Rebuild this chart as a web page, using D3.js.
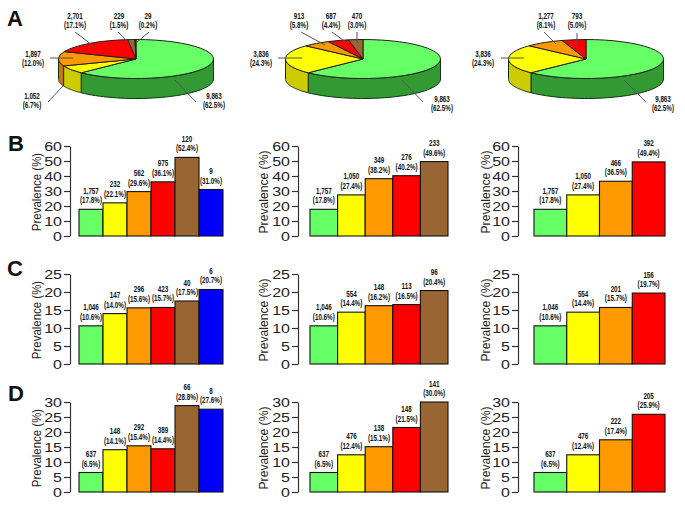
<!DOCTYPE html>
<html><head><meta charset="utf-8">
<script src="https://d3js.org/d3.v7.min.js"></script>
<style>
html,body{margin:0;padding:0;background:#fff}
svg{display:block}
text{font-family:"Liberation Sans",Arial,sans-serif}
.lab{font-weight:700;font-size:8.5px;fill:#111;text-anchor:middle}
.tick text{font-size:12.5px;fill:#222}
.ttl{font-size:13.5px;fill:#222;text-anchor:middle}
.let{font-size:22px;font-weight:700;fill:#111}
</style></head><body>
<svg id="c" width="685" height="513"></svg>
<script>
// ---------- data ----------
const categoryColors = ["#66ff66","#ffff00","#ff9900","#ff0000","#996633","#0000ff"];
const sideColors     = ["#339933","#cccc00","#cc7700","#cc0000","#774d26","#0000aa"];

const pieCounts1 = [9863,1052,1897,2701,229,29];
const piePct1    = [62.5,6.7,12.0,17.1,1.5,0.2];
const pieCounts2 = [9863,3836,913,687,470];
const piePct2    = [62.5,24.3,5.8,4.4,3.0];
const pieCounts3 = [9863,3836,1277,793];
const piePct3    = [62.5,24.3,8.1,5.0];

const countsB1 = [1757,232,562,975,120,9];
const pctB1    = [17.8,22.1,29.6,36.1,52.4,31.0];
const countsB2 = [1757,1050,349,276,233];
const pctB2    = [17.8,27.4,38.2,40.2,49.6];
const countsB3 = [1757,1050,466,392];
const pctB3    = [17.8,27.4,36.5,49.4];

const countsC1 = [1046,147,296,423,40,6];
const pctC1    = [10.6,14.0,15.6,15.7,17.5,20.7];
const countsC2 = [1046,554,148,113,96];
const pctC2    = [10.6,14.4,16.2,16.5,20.4];
const countsC3 = [1046,554,201,156];
const pctC3    = [10.6,14.4,15.7,19.7];

const countsD1 = [637,148,292,389,66,8];
const pctD1    = [6.5,14.1,15.4,14.4,28.8,27.6];
const countsD2 = [637,476,138,148,141];
const pctD2    = [6.5,12.4,15.1,21.5,30.0];
const countsD3 = [637,476,222,205];
const pctD3    = [6.5,12.4,17.4,25.9];

const ticksB = [0,10,20,30,40,50,60];
const ticksC = [0,5,10,15,20,25];
const ticksD = [0,5,10,15,20,25,30];
const yTitle = "Prevalence (%)";

// ---------- layout ----------
const svg = d3.select("#c");
const fmt = d3.format(",");
const squeeze = 0.74;
const label2 = (g,x,y1,y2,count,pct)=>{
  g.append("text").attr("class","lab").attr("transform",`translate(${x},${y1}) scale(${squeeze},1)`).text(fmt(count));
  g.append("text").attr("class","lab").attr("transform",`translate(${x},${y2}) scale(${squeeze},1)`).text("("+pct.toFixed(1)+"%)");
};

const columns = [
  {title:41, tickEnd:70,  x0:79,  x1:223, squeeze:0.85},
  {title:268,tickEnd:298, x0:310, x1:448, squeeze:0.90},
  {title:490,tickEnd:518, x0:534, x1:665, squeeze:0.90}
];
const rows = [
  {y0:236,y1:146,max:60,ticks:ticksB,data:[[countsB1,pctB1],[countsB2,pctB2],[countsB3,pctB3]]},
  {y0:364,y1:274,max:25,ticks:ticksC,data:[[countsC1,pctC1],[countsC2,pctC2],[countsC3,pctC3]]},
  {y0:492,y1:402,max:30,ticks:ticksD,data:[[countsD1,pctD1],[countsD2,pctD2],[countsD3,pctD3]]}
];

rows.forEach(r=>{
  columns.forEach((c,ci)=>{
    const [counts,pct] = r.data[ci];
    const y = d3.scaleLinear().domain([0,r.max]).range([r.y0,r.y1]);
    const x = d3.scaleBand().domain(d3.range(counts.length)).range([c.x0,c.x1]);
    const g = svg.append("g");
    const ax = g.append("g").attr("transform",`translate(${c.tickEnd},0)`)
      .call(d3.axisLeft(y).tickValues(r.ticks).tickSizeInner(6).tickSizeOuter(0).tickPadding(2));
    ax.selectAll("path,line").attr("stroke","#333").attr("stroke-width",1.2);
    ax.selectAll("text").attr("font-family",null)
      .attr("x",0).attr("transform","translate(-8,0) scale(1.28,1)");
    g.append("text").attr("class","ttl")
      .attr("transform",`translate(${c.title},${(r.y0+r.y1)/2+1}) rotate(-90) scale(${c.squeeze},1)`).text(yTitle);
    g.selectAll("rect").data(pct).join("rect")
      .attr("x",(d,i)=>x(i)).attr("width",x.bandwidth())
      .attr("y",d=>y(d)).attr("height",d=>r.y0-y(d))
      .attr("fill",(d,i)=>categoryColors[i]).attr("stroke","#111").attr("stroke-width",1.1);
    pct.forEach((p,i)=>label2(g,x(i)+x.bandwidth()/2,y(p)-15.5,y(p)-6,counts[i],p));
  });
});

// ---------- pies ----------
const rx=77.5, ry=19.5, depth=20;
const pies = [
  {cx:136,cy:59,counts:pieCounts1,pct:piePct1,notes:[
    {x:214,y:[99,108],l:[175,80,196,102]},
    {x:32, y:[99,108],l:[63,86,48,102]},
    {x:33, y:[57,66], l:[50,58,73,58]},
    {x:75, y:[19,28], l:[75,32,96,48]},
    {x:119,y:[19,28], l:[118,32,129,43]},
    {x:148,y:[19,28], l:[149,32,137,42]}]},
  {cx:363,cy:59,counts:pieCounts2,pct:piePct2,notes:[
    {x:442,y:[102,111],l:[402,80,423,102]},
    {x:261,y:[57,66], l:[278,58,302,58]},
    {x:299,y:[19,28], l:[301,32,325,45]},
    {x:331,y:[19,28], l:[332,32,347,43]},
    {x:357,y:[19,28], l:[357,32,357,43]}]},
  {cx:586,cy:59,counts:pieCounts3,pct:piePct3,notes:[
    {x:663,y:[102,111],l:[624,80,646,102]},
    {x:483,y:[57,66], l:[501,58,524,58]},
    {x:546,y:[19,28], l:[544,32,556,44]},
    {x:577,y:[19,28], l:[577,33,577,45]}]}
];
const pieGen = d3.pie().sort(null).value(d=>d);
const arc = d3.arc().innerRadius(0).outerRadius(rx);
const ex = a=>rx*Math.sin(a), ey = a=>-ry*Math.cos(a);
pies.forEach(p=>{
  const g = svg.append("g");
  const arcs = pieGen(p.pct);
  const wall = g.append("g").attr("transform",`translate(${p.cx},${p.cy})`);
  arcs.forEach((a,i)=>{
    const s=Math.max(a.startAngle,Math.PI/2), e=Math.min(a.endAngle,3*Math.PI/2);
    if(e<=s) return;
    const th=d3.range(0,41).map(k=>s+(e-s)*k/40);
    const pts=th.map(t=>[ex(t),ey(t)]).concat(th.slice().reverse().map(t=>[ex(t),ey(t)+depth]));
    wall.append("path").attr("d",d3.line()(pts)+"Z")
      .attr("fill",sideColors[i]).attr("stroke","#113311").attr("stroke-width",1);
  });
  const top = g.append("g").attr("transform",`translate(${p.cx},${p.cy}) scale(1,${ry/rx})`);
  top.selectAll("path").data(arcs).join("path").attr("d",arc)
    .attr("fill",(d,i)=>categoryColors[i])
    .attr("stroke","#222").attr("stroke-width",1).attr("vector-effect","non-scaling-stroke");
  p.notes.forEach((n,i)=>{
    g.append("line").attr("x1",n.l[0]).attr("y1",n.l[1]).attr("x2",n.l[2]).attr("y2",n.l[3])
      .attr("stroke","#555").attr("stroke-width",1);
    label2(g,n.x,n.y[0],n.y[1],p.counts[i],p.pct[i]);
  });
});

// ---------- panel letters ----------
[["A",7,26],["B",8,151],["C",7,276],["D",8,401]].forEach(([t,x,y])=>
  svg.append("text").attr("class","let").attr("x",x).attr("y",y).text(t));
</script>
</body></html>
